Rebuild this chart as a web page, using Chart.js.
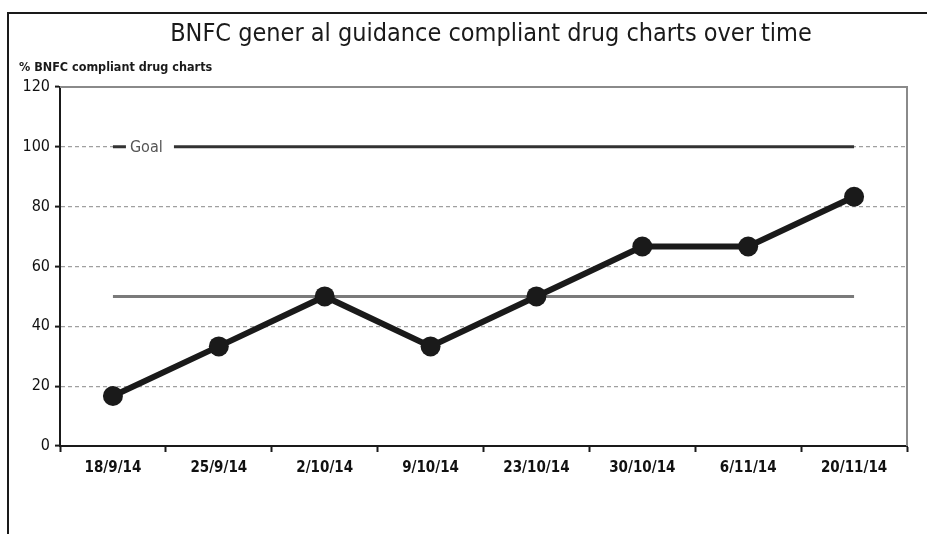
<!DOCTYPE html>
<html>
<head>
<meta charset="utf-8">
<script src="https://cdn.jsdelivr.net/npm/chart.js@4.4.0/dist/chart.umd.min.js"></script>
<style>
  html, body { margin: 0; padding: 0; background: #fff; }
  #wrap { width: 927px; height: 534px; position: relative; }
</style>
</head>
<body>
<div id="wrap"><canvas id="chart" width="927" height="534"></canvas></div>
<script>
// 데이터
const dates = ['18/9/14', '25/9/14', '2/10/14', '9/10/14', '23/10/14', '30/10/14', '6/11/14', '20/11/14'];
const compliant = [16.7, 33.3, 50, 33.3, 50, 66.7, 66.7, 83.3];
const goalValue = 100;
const medianValue = 50;
const yTicks = [0, 20, 40, 60, 80, 100, 120];

const titleText = 'BNFC gener al guidance compliant drug charts over time';
const yTitleText = '% BNFC compliant drug charts';
const narrow = "'Liberation Sans Narrow', 'Arial Narrow', 'DejaVu Sans Condensed', sans-serif";

// 테두리, 제목, Goal 라벨 그리기
const decorPlugin = {
    id: 'decor',
    beforeDraw(chart) {
        const c = chart.ctx;
        c.save();
        c.fillStyle = '#fff';
        c.fillRect(0, 0, chart.width, chart.height);
        c.strokeStyle = '#1a1a1a';
        c.lineWidth = 2;
        c.beginPath();
        c.moveTo(8, chart.height);
        c.lineTo(8, 13);
        c.lineTo(chart.width, 13);
        c.stroke();

        c.fillStyle = '#1a1a1a';
        c.font = '25px ' + narrow;
        c.textAlign = 'center';
        c.textBaseline = 'alphabetic';
        c.fillText(titleText, 491, 41);

        c.font = 'bold 12.5px ' + narrow;
        c.textAlign = 'left';
        c.fillText(yTitleText, 19, 71);
        c.restore();
    },
    beforeDatasetsDraw(chart) {
        const a = chart.chartArea;
        const c = chart.ctx;
        c.save();
        c.strokeStyle = '#8a8a8a';
        c.lineWidth = 2;
        c.beginPath();
        c.moveTo(a.left, a.top);
        c.lineTo(a.right, a.top);
        c.lineTo(a.right, a.bottom);
        c.stroke();
        c.restore();
    },
    afterDatasetsDraw(chart) {
        const p = chart.getDatasetMeta(1).data[0];
        const c = chart.ctx;
        c.save();
        c.fillStyle = '#fff';
        c.fillRect(p.x + 13, p.y - 9, 48, 18);
        c.fillStyle = '#555';
        c.font = '16px ' + narrow;
        c.textAlign = 'left';
        c.textBaseline = 'middle';
        c.fillText('Goal', p.x + 17, p.y + 1);
        c.restore();
    }
};

let lineChart;

function initChart() {
    const ctx = document.getElementById('chart').getContext('2d');
    lineChart = new Chart(ctx, {
        type: 'line',
        data: {
            labels: dates,
            datasets: [{
                label: 'Compliant',
                data: compliant,
                borderColor: '#1a1a1a',
                backgroundColor: '#1a1a1a',
                borderWidth: 6,
                pointRadius: 10,
                pointBorderWidth: 0,
                tension: 0
            }, {
                label: 'Goal',
                data: dates.map(() => goalValue),
                borderColor: '#333',
                borderWidth: 3,
                pointRadius: 0
            }, {
                label: 'Median',
                data: dates.map(() => medianValue),
                borderColor: '#7a7a7a',
                borderWidth: 3,
                pointRadius: 0
            }]
        },
        options: {
            responsive: false,
            animation: false,
            layout: { padding: { left: 0, top: 87, right: 20, bottom: 0 } },
            plugins: {
                legend: { display: false },
                tooltip: { enabled: false }
            },
            scales: {
                x: {
                    offset: true,
                    afterFit(s) { s.height = 88; },
                    grid: {
                        offset: true,
                        drawOnChartArea: false,
                        tickLength: 6,
                        tickColor: '#1a1a1a',
                        tickWidth: 2
                    },
                    border: { color: '#1a1a1a', width: 2 },
                    ticks: {
                        color: '#111',
                        padding: 7,
                        maxRotation: 0,
                        font: { family: narrow, size: 15, weight: 'bold' }
                    }
                },
                y: {
                    min: 0,
                    max: 120,
                    afterFit(s) { s.width = 60; },
                    afterBuildTicks(s) { s.ticks = yTicks.map(v => ({ value: v })); },
                    grid: {
                        color: c => (c.tick && (c.tick.value === 0 || c.tick.value === 120)) ? 'rgba(0,0,0,0)' : '#a0a0a0',
                        lineWidth: 1.2,
                        tickLength: 5,
                        tickColor: '#1a1a1a',
                        tickWidth: 2
                    },
                    border: { color: '#1a1a1a', width: 2, dash: [4, 3] },
                    ticks: {
                        color: '#111',
                        padding: 5,
                        font: { family: narrow, size: 16 }
                    }
                }
            }
        },
        plugins: [decorPlugin]
    });
}

document.addEventListener('DOMContentLoaded', initChart);
</script>
</body>
</html>
